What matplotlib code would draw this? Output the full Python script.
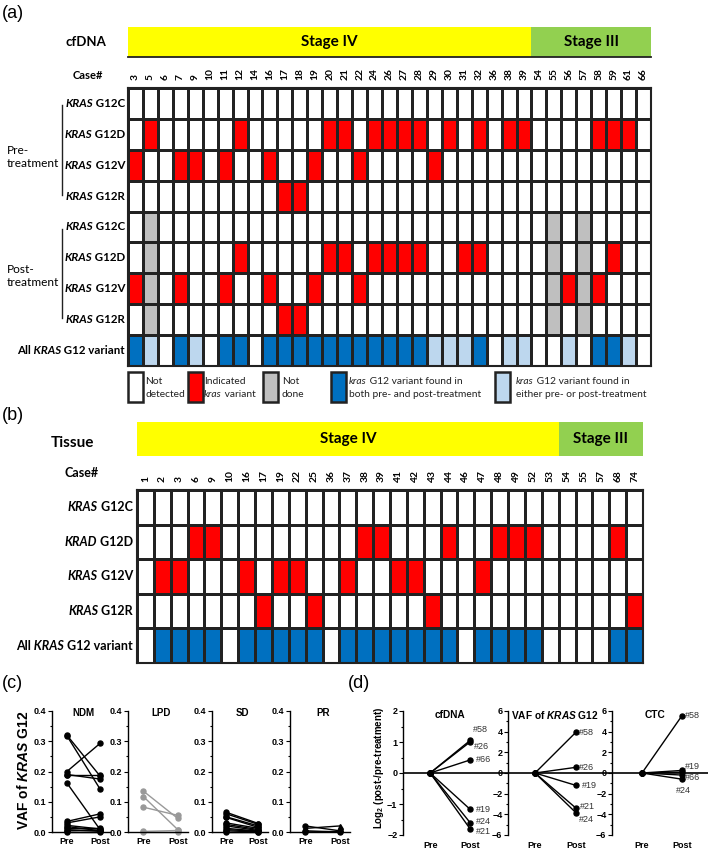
import numpy as np
import matplotlib.pyplot as plt
from matplotlib.colors import ListedColormap, BoundaryNorm
from matplotlib.patches import Rectangle
from matplotlib.ticker import MultipleLocator, FormatStrFormatter

# ---- data: panel (a) cfDNA ----
a_stage4 = [3, 5, 6, 7, 9, 10, 11, 12, 14, 16, 17, 18, 19, 20, 21, 22, 24, 26, 27, 28,
            29, 30, 31, 32, 36, 38, 39]
a_stage3 = [54, 55, 56, 57, 58, 59, 61, 66]
a_pre_g12c = []
a_pre_g12d = [5, 12, 20, 21, 24, 26, 27, 28, 30, 32, 38, 39, 58, 59, 61]
a_pre_g12v = [3, 7, 9, 11, 16, 19, 22, 29]
a_pre_g12r = [17, 18]
a_post_g12c = []
a_post_g12d = [12, 20, 21, 24, 26, 27, 28, 31, 32, 59]
a_post_g12v = [3, 7, 11, 16, 19, 22, 56, 58]
a_post_g12r = [17, 18]
a_post_not_done = [5, 55, 57]

# ---- data: panel (b) tissue ----
b_stage4 = [1, 2, 3, 6, 9, 10, 16, 17, 19, 22, 25, 36, 37, 38, 39, 41, 42, 43, 44, 46,
            47, 48, 49, 52, 53]
b_stage3 = [54, 55, 57, 68, 74]
b_g12c = []
b_g12d = [6, 9, 38, 39, 44, 48, 49, 52, 68]
b_g12v = [2, 3, 16, 19, 22, 37, 41, 42, 47]
b_g12r = [17, 25, 43, 74]

# ---- data: panel (c) VAF of KRAS G12, pre vs post ----
ndm_pre = [0.320, 0.318, 0.200, 0.188, 0.190, 0.162, 0.035, 0.030, 0.022, 0.018, 0.012, 0.008, 0.004, 0.000]
ndm_post = [0.185, 0.142, 0.293, 0.188, 0.175, 0.008, 0.060, 0.050, 0.010, 0.004, 0.012, 0.002, 0.006, 0.000]
lpd_pre = [0.135, 0.117, 0.082, 0.002, 0.000]
lpd_post = [0.045, 0.008, 0.055, 0.005, 0.000]
sd_pre = [0.065, 0.060, 0.050, 0.048, 0.030, 0.025, 0.020, 0.012, 0.008, 0.004, 0.000]
sd_post = [0.028, 0.025, 0.020, 0.015, 0.012, 0.008, 0.005, 0.003, 0.002, 0.000, 0.000]
pr_pre = [0.020, 0.012, 0.004, 0.000]
pr_post = [0.004, 0.020, 0.000, 0.002]
pr_markers = ["o", "^", "o", "o"]

# ---- data: panel (d) log2(post/pre) ----
cfdna_cases = ["#58", "#26", "#66", "#19", "#24", "#21"]
cfdna_vals = [1.05, 1.00, 0.42, -1.17, -1.60, -1.80]
vaf_cases = ["#58", "#26", "#19", "#21", "#24"]
vaf_vals = [3.95, 0.55, -1.20, -3.40, -3.85]
ctc_cases = ["#58", "#19", "", "#66", "#24"]
ctc_vals = [5.55, 0.25, 0.08, -0.20, -0.60]

GRID_FONT = "Lato"
PLOT_FONT = "Liberation Sans"
W, H = 711, 850

plt.rcParams["mathtext.fontset"] = "custom"
plt.rcParams["mathtext.rm"] = PLOT_FONT
plt.rcParams["mathtext.bf"] = PLOT_FONT + ":bold"
plt.rcParams["mathtext.it"] = PLOT_FONT + ":italic"
if "mathtext.bfit" in plt.rcParams:
    plt.rcParams["mathtext.bfit"] = PLOT_FONT + ":italic:bold"
    KRAS_MATH = r"$\mathbfit{KRAS}$"
else:
    KRAS_MATH = r"$\mathit{KRAS}$"

cmap = ListedColormap(["white", "#FF0000", "#BFBFBF", "#0070C0", "#BDD7EE"])
norm = BoundaryNorm(np.arange(-0.5, 5.5), cmap.N)

fig = plt.figure(figsize=(W / 100, H / 100), dpi=100)
bg = fig.add_axes([0, 0, 1, 1])
bg.set_xlim(0, W)
bg.set_ylim(H, 0)
bg.axis("off")


def px_axes(x0, y0, x1, y1):
    return fig.add_axes([x0 / W, 1 - y1 / H, (x1 - x0) / W, (y1 - y0) / H])


def mixed(ax, x, y, parts, ha="right", **kw):
    # parts: list of (text, fontstyle); chained so styles can change mid-label
    seq = parts[::-1] if ha == "right" else parts
    anchor = (0, 0.5) if ha == "right" else (1, 0.5)
    t = ax.text(x, y, seq[0][0], ha=ha, va="center", fontstyle=seq[0][1], **kw)
    for s, st in seq[1:]:
        t = ax.annotate(s, xy=anchor, xycoords=t, ha=ha, va="center", fontstyle=st, **kw)
    return t


def hits(cases, positives):
    return np.array([c in positives for c in cases])


def heatgrid(box, codes, cases, case_fs):
    ax = px_axes(*box)
    n_rows, n_cols = codes.shape
    ax.pcolormesh(np.arange(n_cols + 1), np.arange(n_rows + 1), codes, cmap=cmap, norm=norm,
                  edgecolors="#222222", linewidth=0.9)
    ax.set_xlim(0, n_cols)
    ax.set_ylim(n_rows, 0)
    ax.xaxis.tick_top()
    ax.set_xticks(np.arange(n_cols) + 0.5)
    ax.set_xticklabels([str(c) for c in cases], rotation=90, fontsize=case_fs,
                       fontweight="bold", family=GRID_FONT)
    ax.tick_params(axis="x", length=0, pad=5.5)
    ax.set_yticks([])
    for s in ax.spines.values():
        s.set_linewidth(1.5)
        s.set_color("#222222")
    return ax


def stage_bar(box, n4, n3, fs, underline=False):
    hx = px_axes(*box)
    hx.barh(0, n4, left=0, height=1, color="#FFFF00")
    hx.barh(0, n3, left=n4, height=1, color="#92D050")
    hx.set_xlim(0, n4 + n3)
    hx.set_ylim(-0.5, 0.5)
    hx.axis("off")
    for x, s in ((n4 / 2, "Stage IV"), (n4 + n3 / 2, "Stage III")):
        hx.text(x, 0, s, ha="center", va="center", fontsize=fs, fontweight="bold",
                family=GRID_FONT)
    if underline:
        hx.axhline(-0.5, color="#222222", lw=1.3, clip_on=False)
    return hx


# ================= panel (a) =================
a_cases = a_stage4 + a_stage3
pre = [hits(a_cases, r) for r in (a_pre_g12c, a_pre_g12d, a_pre_g12v, a_pre_g12r)]
post = [hits(a_cases, r) for r in (a_post_g12c, a_post_g12d, a_post_g12v, a_post_g12r)]
nd = hits(a_cases, a_post_not_done)
pre_any = np.any(pre, axis=0)
post_any = np.any(post, axis=0)
rows = [np.where(p, 1, 0) for p in pre] + [np.where(nd, 2, np.where(p, 1, 0)) for p in post]
all_row = np.where(pre_any & post_any, 3, np.where(pre_any | post_any, 4, 0))
a_codes = np.vstack(rows + [all_row])

ax_a = heatgrid((128, 88, 651, 366), a_codes, a_cases, 7.4)
stage_bar((128, 27, 651, 57), len(a_stage4), len(a_stage3), 11, underline=True)

variants = ["G12C", "G12D", "G12V", "G12R"]
lab_kw = dict(fontsize=8.3, fontweight="bold", family=GRID_FONT)
for i, v in enumerate(variants * 2):
    mixed(ax_a, -0.2, i + 0.5, [("KRAS", "italic"), (" " + v, "normal")], **lab_kw)
mixed(ax_a, -0.2, 8.5, [("All", "normal"), (" KRAS", "italic"), (" G12 variant", "normal")], **lab_kw)
for g0, g1 in ((0, 4), (4, 8)):
    ax_a.plot([-4.42, -4.42], [g0 + 0.55, g1 - 0.55], color="#222222", lw=1.0, clip_on=False)

bg.text(86, 42, "cfDNA", ha="center", va="center", fontsize=9.5, fontweight="bold", family=GRID_FONT)
bg.text(88, 75, "Case#", ha="center", va="center", fontsize=8, fontweight="bold", family=GRID_FONT)
bg.text(7, 157, "Pre-\ntreatment", ha="left", va="center", fontsize=8.6, family=GRID_FONT, linespacing=1.15)
bg.text(7, 276, "Post-\ntreatment", ha="left", va="center", fontsize=8.6, family=GRID_FONT, linespacing=1.15)

# legend
lg = px_axes(128, 370, 651, 404)
lg.set_xlim(0, 523)
lg.set_ylim(34, 0)
lg.axis("off")
legend_items = [
    (0, 17, "white", [[("Not", "normal")], [("detected", "normal")]]),
    (60, 76, "#FF0000", [[("Indicated", "normal")], [("kras", "italic"), (" variant", "normal")]]),
    (135, 154, "#BFBFBF", [[("Not", "normal")], [("done", "normal")]]),
    (203, 221, "#0070C0", [[("kras", "italic"), (" G12 variant found in", "normal")],
                           [("both pre- and post-treatment", "normal")]]),
    (367, 388, "#BDD7EE", [[("kras", "italic"), (" G12 variant found in", "normal")],
                           [("either pre- or post-treatment", "normal")]]),
]
for bx, tx, col, lines in legend_items:
    lg.add_patch(Rectangle((bx, 2), 15, 30, facecolor=col, edgecolor="#222222", lw=1.8, clip_on=False))
    for k, parts in enumerate(lines):
        mixed(lg, tx, 12 + 12.3 * k, parts, ha="left", fontsize=7.4, family=GRID_FONT, color="#222222")

# ================= panel (b) =================
b_cases = b_stage4 + b_stage3
b_rows = [hits(b_cases, r) for r in (b_g12c, b_g12d, b_g12v, b_g12r)]
b_codes = np.vstack([np.where(r, 1, 0) for r in b_rows] + [np.where(np.any(b_rows, axis=0), 3, 0)])

ax_b = heatgrid((137, 490, 643, 663), b_codes, b_cases, 7.4)
stage_bar((137, 422, 643, 456), len(b_stage4), len(b_stage3), 11)
lab_kw_b = dict(fontsize=9, fontweight="bold", family=GRID_FONT)
b_genes = ["KRAS", "KRAD", "KRAS", "KRAS"]
for i, (g, v) in enumerate(zip(b_genes, variants)):
    mixed(ax_b, -0.24, i + 0.5, [(g, "italic"), (" " + v, "normal")], **lab_kw_b)
mixed(ax_b, -0.24, 4.5, [("All", "normal"), (" KRAS", "italic"), (" G12 variant", "normal")], **lab_kw_b)
bg.text(72, 443, "Tissue", ha="center", va="center", fontsize=11, fontweight="bold", family=GRID_FONT)
bg.text(82, 473, "Case#", ha="center", va="center", fontsize=9, fontweight="bold", family=GRID_FONT)

# ================= panel (c) =================
def bold_ticks(ax):
    for lbl in ax.get_xticklabels() + ax.get_yticklabels():
        lbl.set_fontweight("bold")
        lbl.set_family(PLOT_FONT)


def vaf_panel(box, pre_v, post_v, title, color, markers=None):
    ax = px_axes(*box)
    for i, (a, b) in enumerate(zip(pre_v, post_v)):
        m = markers[i] if markers else "o"
        ax.plot([0, 1], [a, b], color=color, marker=m, ms=3.6, lw=1.0, clip_on=False)
    ax.set_xlim(-0.45, 1.3)
    ax.set_ylim(0, 0.4)
    for s in ("top", "right"):
        ax.spines[s].set_visible(False)
    for s in ("left", "bottom"):
        ax.spines[s].set_linewidth(1.0)
    ax.yaxis.set_major_locator(MultipleLocator(0.1))
    ax.yaxis.set_minor_locator(MultipleLocator(0.05))
    ax.yaxis.set_major_formatter(FormatStrFormatter("%.1f"))
    ax.tick_params(axis="y", which="major", length=3, width=0.8, labelsize=6.5, pad=1)
    ax.tick_params(axis="y", which="minor", length=1.5, width=0.8)
    ax.set_xticks([0, 1])
    ax.set_xticklabels(["Pre", "Post"])
    ax.tick_params(axis="x", length=0, labelsize=6.5, pad=3.5)
    bold_ticks(ax)
    ax.text(0.55, 0.985, title, transform=ax.transAxes, ha="center", va="center",
            fontsize=7, fontweight="bold", family=PLOT_FONT)
    return ax


vaf_panel((52, 711, 110, 832), ndm_pre, ndm_post, "NDM", "black")
vaf_panel((128, 711, 188, 832), lpd_pre, lpd_post, "LPD", "#999999")
vaf_panel((212, 711, 268, 832), sd_pre, sd_post, "SD", "black")
vaf_panel((290, 711, 350, 832), pr_pre, pr_post, "PR", "black", pr_markers)
bg.text(24, 770, "VAF of " + KRAS_MATH + " G12", rotation=90, ha="center", va="center",
        fontsize=10, fontweight="bold", family=PLOT_FONT)

# ================= panel (d) =================
def ratio_panel(box, vals, cases, title, lim, step, xlim, offsets):
    ax = px_axes(*box)
    ax.axhline(0, color="black", lw=1.2, zorder=1)
    for v, c in zip(vals, cases):
        ax.plot([0, 1], [0, v], color="black", marker="o", ms=3.6, lw=1.0, clip_on=False, zorder=3)
        if c:
            dx, dy, ha = offsets[c]
            ax.annotate(c, (1, v), xytext=(dx, dy), textcoords="offset points", ha=ha,
                        va="center", fontsize=6.5, color="#333333", family=PLOT_FONT)
    ax.set_xlim(*xlim)
    ax.set_ylim(-lim, lim)
    for s in ("top", "right", "bottom"):
        ax.spines[s].set_visible(False)
    ax.spines["left"].set_linewidth(1.0)
    ax.yaxis.set_major_locator(MultipleLocator(step))
    ax.yaxis.set_minor_locator(MultipleLocator(step / 2))
    ax.tick_params(axis="y", which="major", length=3, width=0.8, labelsize=6.5, pad=1)
    ax.tick_params(axis="y", which="minor", length=1.5, width=0.8)
    ax.set_xticks([0, 1])
    ax.set_xticklabels(["Pre", "Post"])
    ax.tick_params(axis="x", length=0, labelsize=6.5, pad=4)
    bold_ticks(ax)
    ax.text(0.45, 0.97, title, transform=ax.transAxes, ha="center", va="center",
            fontsize=7.3, fontweight="bold", family=PLOT_FONT)
    return ax


cfdna_off = {"#58": (2, 8, "left"), "#26": (3, -3.5, "left"), "#66": (4, 0, "left"),
             "#19": (4, 0, "left"), "#24": (4, 1, "left"), "#21": (4, -2, "left")}
vaf_off = {"#58": (2, 0, "left"), "#26": (2, 0, "left"), "#19": (4, 0, "left"),
           "#21": (3, 1.5, "left"), "#24": (2, -5, "left")}
ctc_off = {"#58": (2, 0, "left"), "#19": (2, 3, "left"), "#66": (2, -2, "left"),
           "#24": (1, -8, "center")}
ratio_panel((403, 711, 508, 835), cfdna_vals, cfdna_cases, "cfDNA", 2, 1, (-0.68, 1.95), cfdna_off)
ratio_panel((508, 711, 612, 835), vaf_vals, vaf_cases, "VAF of " + KRAS_MATH + " G12", 6, 2,
            (-0.66, 1.88), vaf_off)
ratio_panel((612, 711, 708, 835), ctc_vals, ctc_cases, "CTC", 6, 2, (-0.75, 1.65), ctc_off)
bg.text(379, 768, r"Log$_\mathbf{2}$ (post-/pre-treatment)", rotation=90, ha="center",
        va="center", fontsize=7, fontweight="bold", family=PLOT_FONT)

# panel letters
for x, y, s in ((2, 13, "(a)"), (2, 415, "(b)"), (2, 683, "(c)"), (348, 683, "(d)")):
    bg.text(x, y, s, ha="left", va="center", fontsize=13, family=PLOT_FONT)

fig.savefig("out.png", dpi=100)
